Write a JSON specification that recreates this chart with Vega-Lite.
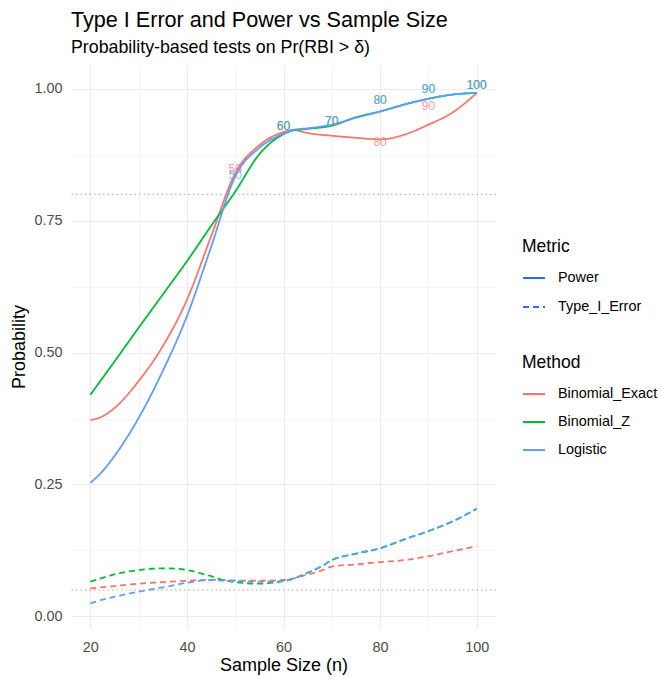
{
  "$schema": "https://vega.github.io/schema/vega-lite/v6.json",
  "autosize": {"type": "none"},
  "padding": {"left": 71, "top": 65, "right": 166, "bottom": 51},
  "width": 425,
  "height": 563,
  "background": "white",
  "title": {
    "text": "Type I Error and Power vs Sample Size",
    "subtitle": "Probability-based tests on Pr(RBI > δ)",
    "anchor": "start",
    "frame": "group",
    "font": "Liberation Sans",
    "subtitleFont": "Liberation Sans",
    "fontSize": 21.6,
    "subtitleFontSize": 17.8,
    "fontWeight": "normal",
    "color": "#000000",
    "subtitleColor": "#000000",
    "offset": 8,
    "subtitlePadding": 8
  },
  "datasets": {
    "refs": [{"p": 0.8}, {"p": 0.05}],
    "curves": [
      {"Method": "Binomial_Exact", "Metric": "Power", "n": 20, "p": 0.372},
      {"Method": "Binomial_Exact", "Metric": "Power", "n": 22.5, "p": 0.379},
      {"Method": "Binomial_Exact", "Metric": "Power", "n": 25, "p": 0.395},
      {"Method": "Binomial_Exact", "Metric": "Power", "n": 30, "p": 0.446},
      {"Method": "Binomial_Exact", "Metric": "Power", "n": 35, "p": 0.512},
      {"Method": "Binomial_Exact", "Metric": "Power", "n": 40, "p": 0.6},
      {"Method": "Binomial_Exact", "Metric": "Power", "n": 45, "p": 0.72},
      {"Method": "Binomial_Exact", "Metric": "Power", "n": 50, "p": 0.84},
      {"Method": "Binomial_Exact", "Metric": "Power", "n": 55, "p": 0.893},
      {"Method": "Binomial_Exact", "Metric": "Power", "n": 60, "p": 0.918},
      {"Method": "Binomial_Exact", "Metric": "Power", "n": 62, "p": 0.922},
      {"Method": "Binomial_Exact", "Metric": "Power", "n": 65, "p": 0.916},
      {"Method": "Binomial_Exact", "Metric": "Power", "n": 70, "p": 0.911},
      {"Method": "Binomial_Exact", "Metric": "Power", "n": 75, "p": 0.907},
      {"Method": "Binomial_Exact", "Metric": "Power", "n": 80, "p": 0.904},
      {"Method": "Binomial_Exact", "Metric": "Power", "n": 85, "p": 0.913},
      {"Method": "Binomial_Exact", "Metric": "Power", "n": 90, "p": 0.932},
      {"Method": "Binomial_Exact", "Metric": "Power", "n": 95, "p": 0.955},
      {"Method": "Binomial_Exact", "Metric": "Power", "n": 100, "p": 0.992},
      {"Method": "Binomial_Exact", "Metric": "Type_I_Error", "n": 20, "p": 0.053},
      {"Method": "Binomial_Exact", "Metric": "Type_I_Error", "n": 25, "p": 0.0574},
      {"Method": "Binomial_Exact", "Metric": "Type_I_Error", "n": 30, "p": 0.062},
      {"Method": "Binomial_Exact", "Metric": "Type_I_Error", "n": 35, "p": 0.065},
      {"Method": "Binomial_Exact", "Metric": "Type_I_Error", "n": 40, "p": 0.0676},
      {"Method": "Binomial_Exact", "Metric": "Type_I_Error", "n": 45, "p": 0.0695},
      {"Method": "Binomial_Exact", "Metric": "Type_I_Error", "n": 50, "p": 0.068},
      {"Method": "Binomial_Exact", "Metric": "Type_I_Error", "n": 55, "p": 0.0676},
      {"Method": "Binomial_Exact", "Metric": "Type_I_Error", "n": 60, "p": 0.069},
      {"Method": "Binomial_Exact", "Metric": "Type_I_Error", "n": 65, "p": 0.0795},
      {"Method": "Binomial_Exact", "Metric": "Type_I_Error", "n": 67.5, "p": 0.0858},
      {"Method": "Binomial_Exact", "Metric": "Type_I_Error", "n": 70, "p": 0.0945},
      {"Method": "Binomial_Exact", "Metric": "Type_I_Error", "n": 75, "p": 0.0985},
      {"Method": "Binomial_Exact", "Metric": "Type_I_Error", "n": 80, "p": 0.103},
      {"Method": "Binomial_Exact", "Metric": "Type_I_Error", "n": 85, "p": 0.1066},
      {"Method": "Binomial_Exact", "Metric": "Type_I_Error", "n": 90, "p": 0.114},
      {"Method": "Binomial_Exact", "Metric": "Type_I_Error", "n": 95, "p": 0.1237},
      {"Method": "Binomial_Exact", "Metric": "Type_I_Error", "n": 100, "p": 0.133},
      {"Method": "Binomial_Z", "Metric": "Power", "n": 20, "p": 0.42},
      {"Method": "Binomial_Z", "Metric": "Power", "n": 25, "p": 0.483},
      {"Method": "Binomial_Z", "Metric": "Power", "n": 30, "p": 0.547},
      {"Method": "Binomial_Z", "Metric": "Power", "n": 35, "p": 0.61},
      {"Method": "Binomial_Z", "Metric": "Power", "n": 40, "p": 0.673},
      {"Method": "Binomial_Z", "Metric": "Power", "n": 45, "p": 0.74},
      {"Method": "Binomial_Z", "Metric": "Power", "n": 50, "p": 0.805},
      {"Method": "Binomial_Z", "Metric": "Power", "n": 55, "p": 0.876},
      {"Method": "Binomial_Z", "Metric": "Power", "n": 60, "p": 0.914},
      {"Method": "Binomial_Z", "Metric": "Power", "n": 62, "p": 0.921},
      {"Method": "Binomial_Z", "Metric": "Power", "n": 65, "p": 0.924},
      {"Method": "Binomial_Z", "Metric": "Power", "n": 70, "p": 0.93},
      {"Method": "Binomial_Z", "Metric": "Power", "n": 75, "p": 0.946},
      {"Method": "Binomial_Z", "Metric": "Power", "n": 80, "p": 0.957},
      {"Method": "Binomial_Z", "Metric": "Power", "n": 85, "p": 0.97},
      {"Method": "Binomial_Z", "Metric": "Power", "n": 90, "p": 0.981},
      {"Method": "Binomial_Z", "Metric": "Power", "n": 95, "p": 0.989},
      {"Method": "Binomial_Z", "Metric": "Power", "n": 100, "p": 0.992},
      {"Method": "Binomial_Z", "Metric": "Type_I_Error", "n": 20, "p": 0.066},
      {"Method": "Binomial_Z", "Metric": "Type_I_Error", "n": 22.5, "p": 0.073},
      {"Method": "Binomial_Z", "Metric": "Type_I_Error", "n": 25, "p": 0.0795},
      {"Method": "Binomial_Z", "Metric": "Type_I_Error", "n": 27.5, "p": 0.0846},
      {"Method": "Binomial_Z", "Metric": "Type_I_Error", "n": 30, "p": 0.0877},
      {"Method": "Binomial_Z", "Metric": "Type_I_Error", "n": 32.5, "p": 0.0903},
      {"Method": "Binomial_Z", "Metric": "Type_I_Error", "n": 35, "p": 0.091},
      {"Method": "Binomial_Z", "Metric": "Type_I_Error", "n": 37.5, "p": 0.0905},
      {"Method": "Binomial_Z", "Metric": "Type_I_Error", "n": 40, "p": 0.0877},
      {"Method": "Binomial_Z", "Metric": "Type_I_Error", "n": 42.5, "p": 0.0827},
      {"Method": "Binomial_Z", "Metric": "Type_I_Error", "n": 45, "p": 0.0763},
      {"Method": "Binomial_Z", "Metric": "Type_I_Error", "n": 47.5, "p": 0.0688},
      {"Method": "Binomial_Z", "Metric": "Type_I_Error", "n": 50, "p": 0.065},
      {"Method": "Binomial_Z", "Metric": "Type_I_Error", "n": 55, "p": 0.062},
      {"Method": "Binomial_Z", "Metric": "Type_I_Error", "n": 58, "p": 0.064},
      {"Method": "Binomial_Z", "Metric": "Type_I_Error", "n": 60, "p": 0.067},
      {"Method": "Binomial_Z", "Metric": "Type_I_Error", "n": 62.5, "p": 0.073},
      {"Method": "Binomial_Z", "Metric": "Type_I_Error", "n": 65, "p": 0.0828},
      {"Method": "Binomial_Z", "Metric": "Type_I_Error", "n": 67.5, "p": 0.093},
      {"Method": "Binomial_Z", "Metric": "Type_I_Error", "n": 70, "p": 0.1066},
      {"Method": "Binomial_Z", "Metric": "Type_I_Error", "n": 75, "p": 0.119},
      {"Method": "Binomial_Z", "Metric": "Type_I_Error", "n": 80, "p": 0.129},
      {"Method": "Binomial_Z", "Metric": "Type_I_Error", "n": 85, "p": 0.146},
      {"Method": "Binomial_Z", "Metric": "Type_I_Error", "n": 90, "p": 0.1616},
      {"Method": "Binomial_Z", "Metric": "Type_I_Error", "n": 95, "p": 0.18},
      {"Method": "Binomial_Z", "Metric": "Type_I_Error", "n": 100, "p": 0.204},
      {"Method": "Logistic", "Metric": "Power", "n": 20, "p": 0.253},
      {"Method": "Logistic", "Metric": "Power", "n": 22.5, "p": 0.275},
      {"Method": "Logistic", "Metric": "Power", "n": 25, "p": 0.304},
      {"Method": "Logistic", "Metric": "Power", "n": 30, "p": 0.376},
      {"Method": "Logistic", "Metric": "Power", "n": 35, "p": 0.465},
      {"Method": "Logistic", "Metric": "Power", "n": 40, "p": 0.569},
      {"Method": "Logistic", "Metric": "Power", "n": 45, "p": 0.7},
      {"Method": "Logistic", "Metric": "Power", "n": 50, "p": 0.834},
      {"Method": "Logistic", "Metric": "Power", "n": 55, "p": 0.888},
      {"Method": "Logistic", "Metric": "Power", "n": 60, "p": 0.915},
      {"Method": "Logistic", "Metric": "Power", "n": 62, "p": 0.922},
      {"Method": "Logistic", "Metric": "Power", "n": 65, "p": 0.925},
      {"Method": "Logistic", "Metric": "Power", "n": 70, "p": 0.932},
      {"Method": "Logistic", "Metric": "Power", "n": 75, "p": 0.945},
      {"Method": "Logistic", "Metric": "Power", "n": 80, "p": 0.957},
      {"Method": "Logistic", "Metric": "Power", "n": 85, "p": 0.97},
      {"Method": "Logistic", "Metric": "Power", "n": 90, "p": 0.981},
      {"Method": "Logistic", "Metric": "Power", "n": 95, "p": 0.989},
      {"Method": "Logistic", "Metric": "Power", "n": 100, "p": 0.992},
      {"Method": "Logistic", "Metric": "Type_I_Error", "n": 20, "p": 0.0246},
      {"Method": "Logistic", "Metric": "Type_I_Error", "n": 22.5, "p": 0.0316},
      {"Method": "Logistic", "Metric": "Type_I_Error", "n": 25, "p": 0.0373},
      {"Method": "Logistic", "Metric": "Type_I_Error", "n": 30, "p": 0.0468},
      {"Method": "Logistic", "Metric": "Type_I_Error", "n": 35, "p": 0.055},
      {"Method": "Logistic", "Metric": "Type_I_Error", "n": 40, "p": 0.0638},
      {"Method": "Logistic", "Metric": "Type_I_Error", "n": 45, "p": 0.0688},
      {"Method": "Logistic", "Metric": "Type_I_Error", "n": 50, "p": 0.0669},
      {"Method": "Logistic", "Metric": "Type_I_Error", "n": 55, "p": 0.066},
      {"Method": "Logistic", "Metric": "Type_I_Error", "n": 60, "p": 0.067},
      {"Method": "Logistic", "Metric": "Type_I_Error", "n": 62.5, "p": 0.073},
      {"Method": "Logistic", "Metric": "Type_I_Error", "n": 65, "p": 0.0828},
      {"Method": "Logistic", "Metric": "Type_I_Error", "n": 67.5, "p": 0.093},
      {"Method": "Logistic", "Metric": "Type_I_Error", "n": 70, "p": 0.1066},
      {"Method": "Logistic", "Metric": "Type_I_Error", "n": 75, "p": 0.119},
      {"Method": "Logistic", "Metric": "Type_I_Error", "n": 80, "p": 0.129},
      {"Method": "Logistic", "Metric": "Type_I_Error", "n": 85, "p": 0.146},
      {"Method": "Logistic", "Metric": "Type_I_Error", "n": 90, "p": 0.1616},
      {"Method": "Logistic", "Metric": "Type_I_Error", "n": 95, "p": 0.18},
      {"Method": "Logistic", "Metric": "Type_I_Error", "n": 100, "p": 0.204}
    ],
    "labels": [
      {"Method": "Binomial_Exact", "n": 50, "p": 0.847, "label": "50"},
      {"Method": "Binomial_Exact", "n": 60, "p": 0.929, "label": "60"},
      {"Method": "Binomial_Exact", "n": 70, "p": 0.938, "label": "70"},
      {"Method": "Binomial_Exact", "n": 80, "p": 0.9, "label": "80"},
      {"Method": "Binomial_Exact", "n": 90, "p": 0.967, "label": "90"},
      {"Method": "Binomial_Exact", "n": 100, "p": 1.0075, "label": "100"},
      {"Method": "Binomial_Z", "n": 60, "p": 0.929, "label": "60"},
      {"Method": "Binomial_Z", "n": 70, "p": 0.938, "label": "70"},
      {"Method": "Binomial_Z", "n": 80, "p": 0.979, "label": "80"},
      {"Method": "Binomial_Z", "n": 90, "p": 0.999, "label": "90"},
      {"Method": "Binomial_Z", "n": 100, "p": 1.0075, "label": "100"},
      {"Method": "Logistic", "n": 50, "p": 0.837, "label": "50"},
      {"Method": "Logistic", "n": 60, "p": 0.929, "label": "60"},
      {"Method": "Logistic", "n": 70, "p": 0.938, "label": "70"},
      {"Method": "Logistic", "n": 80, "p": 0.979, "label": "80"},
      {"Method": "Logistic", "n": 90, "p": 0.999, "label": "90"},
      {"Method": "Logistic", "n": 100, "p": 1.0075, "label": "100"}
    ]
  },
  "config": {
    "font": "Liberation Sans",
    "view": {"stroke": null},
    "axis": {
      "domain": false,
      "ticks": false,
      "labelColor": "#4D4D4D",
      "labelFontSize": 14.4,
      "titleFontSize": 18,
      "titleFontWeight": "normal",
      "titleColor": "#000000",
      "gridColor": "#EBEBEB",
      "gridWidth": 1
    },
    "legend": {
      "padding": 0,
      "titleFontSize": 17.5,
      "titleFontWeight": "normal",
      "titleColor": "#000000",
      "labelFontSize": 14.4,
      "labelColor": "#000000",
      "labelOffset": 12,
      "rowPadding": 9,
      "titlePadding": 10.5,
      "symbolType": "stroke",
      "symbolSize": 484,
      "symbolStrokeWidth": 2
    }
  },
  "layer": [
    {
      "data": {"name": "curves"},
      "mark": {"type": "line", "interpolate": "monotone", "strokeWidth": 1.8},
      "encoding": {
        "x": {
          "field": "n", "type": "quantitative",
          "scale": {"domain": [16, 104], "nice": false, "zero": false},
          "axis": {
            "title": "Sample Size (n)",
            "values": [20, 30, 40, 50, 60, 70, 80, 90, 100],
            "labelExpr": "datum.value % 20 == 0 ? datum.label : ''",
            "labelFlush": false,
            "gridWidth": {"condition": {"test": "datum.value % 20 == 0", "value": 1.1}, "value": 0.55},
            "labelPadding": 12,
            "titlePadding": 3
          }
        },
        "y": {
          "field": "p", "type": "quantitative",
          "scale": {"domain": [-0.022, 1.045], "nice": false, "zero": false},
          "axis": {
            "title": "Probability",
            "values": [0, 0.125, 0.25, 0.375, 0.5, 0.625, 0.75, 0.875, 1],
            "format": ".2f",
            "labelExpr": "abs(datum.value*4 - round(datum.value*4)) < 0.001 ? datum.label : ''",
            "gridWidth": {"condition": {"test": "abs(datum.value*4 - round(datum.value*4)) < 0.001", "value": 1.1}, "value": 0.55},
            "labelPadding": 9,
            "titlePadding": 5
          }
        },
        "color": {
          "field": "Method", "type": "nominal",
          "scale": {"domain": ["Binomial_Exact", "Binomial_Z", "Logistic"], "range": ["#F8766D", "#00BA38", "#619CFF"]},
          "legend": {"title": "Method", "orient": "none", "legendX": 451, "legendY": 289, "rowPadding": 9}
        },
        "strokeDash": {
          "field": "Metric", "type": "nominal",
          "scale": {"domain": ["Power", "Type_I_Error"], "range": [[1, 0], [6, 4]]},
          "legend": {"title": "Metric", "orient": "none", "legendX": 451, "legendY": 173, "rowPadding": 10, "symbolStrokeColor": "#3366FF"}
        }
      }
    },
    {
      "data": {"name": "refs"},
      "mark": {"type": "rule", "color": "#A6A6A6", "strokeDash": [1.5, 3], "strokeWidth": 1},
      "encoding": {
        "y": {"field": "p", "type": "quantitative"}
      }
    },
    {
      "data": {"name": "labels"},
      "mark": {"type": "text", "fontSize": 12, "opacity": 0.7},
      "encoding": {
        "x": {"field": "n", "type": "quantitative"},
        "y": {"field": "p", "type": "quantitative"},
        "text": {"field": "label", "type": "nominal"},
        "color": {"field": "Method", "type": "nominal", "legend": null}
      }
    }
  ]
}
